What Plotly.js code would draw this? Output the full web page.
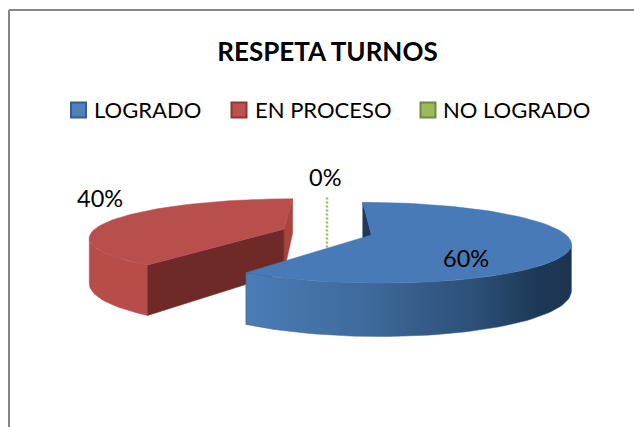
<!DOCTYPE html>
<html>
<head>
<meta charset="utf-8">
<script src="https://cdn.plot.ly/plotly-3.0.1.min.js"></script>
<style>html,body{margin:0;padding:0;background:#fff}#c{width:634px;height:427px}</style>
</head>
<body>
<div id="c"></div>
<script>
const categories = ['LOGRADO', 'EN PROCESO', 'NO LOGRADO'];
const values = [60, 40, 0];
const chartTitle = 'RESPETA TURNOS';
const legendColors = ['#4f81bd', '#c0504d', '#9bbb59'];
const legendEdges = ['#385d8a', '#8c3836', '#71893f'];

// Pie projection settings (pixel-valued x/y axes)
const FONT = 'Lato, Carlito, Calibri, sans-serif';
const CX = 327, CY = 232, R = 192, TILT = 0.2046, PERSP = 0.00103, DEPTH = 44;
const explodes = [46, 46, 25];
const labelPos = [[466, 258], [99.5, 198], [325, 177]];
const legendSwatchX = [78.5, 239, 428];
const legendTextX = [94, 255, 443];
const legendY = 110;

const rad = d => d * Math.PI / 180;
function project(X, Z, drop) {
  const s = 1 - PERSP * Z;
  return [CX + X * s, CY - Z * TILT * s + (drop ? DEPTH * s : 0)];
}
function slice(i) {
  let start = 0;
  for (let j = 0; j < i; j++) start += values[j];
  const a0 = start * 3.6, a1 = (start + values[i]) * 3.6, mid = (a0 + a1) / 2;
  const ox = explodes[i] * Math.sin(rad(mid)), oz = explodes[i] * Math.cos(rad(mid));
  return {
    a0, a1,
    rim: (a, drop) => project(ox + R * Math.sin(rad(a)), oz + R * Math.cos(rad(a)), drop),
    apex: drop => project(ox, oz, drop)
  };
}
function arc(sl, a0, a1, drop) {
  const n = Math.max(2, Math.round(Math.abs(a1 - a0) / 2));
  const out = [];
  for (let k = 0; k <= n; k++) out.push(sl.rim(a0 + (a1 - a0) * k / n, drop));
  return out;
}
// angle of the rim's horizontal extreme: where the side wall's silhouette turns
function extremeAngle(sl, sign) {
  let best = sl.a0, bestX = -Infinity;
  for (let a = sl.a0; a <= sl.a1; a += 0.5) {
    const x = sign * sl.rim(a, false)[0];
    if (x > bestX) { bestX = x; best = a; }
  }
  return best;
}
function poly(pts, color, extra) {
  return Object.assign({
    x: pts.map(p => p[0]).concat(pts[0][0]),
    y: pts.map(p => p[1]).concat(pts[0][1]),
    mode: 'lines', fill: 'toself', fillcolor: color,
    line: {width: 0.5, color: color}, hoverinfo: 'skip', showlegend: false
  }, extra || {});
}
const topFace = sl => [sl.apex(false)].concat(arc(sl, sl.a0, sl.a1, false));
const wall = (sl, a) => [sl.rim(a, false), sl.apex(false), sl.apex(true), sl.rim(a, true)];
const side = (sl, a0, a1) => arc(sl, a0, a1, false).concat(arc(sl, a1, a0, true));

const blue = slice(0), red = slice(1), green = slice(2);
const traces = [];

// zero-value slice: only its edge is visible
const g0 = green.rim(360, false), g1 = green.apex(true);
traces.push({x: [g0[0], g1[0]], y: [g0[1], g1[1]], mode: 'lines',
  line: {color: '#9bbb59', width: 2.5, dash: '2px,2px'}, hoverinfo: 'skip', showlegend: false});

// EN PROCESO
traces.push(poly(wall(red, red.a1), '#a8433f'));
traces.push(poly(side(red, red.a0, extremeAngle(red, -1)), '#b84c49'));
traces.push(poly(wall(red, red.a0), '#6f2a27'));
traces.push(poly(topFace(red), '#b94f4c'));

// LOGRADO
traces.push(poly(wall(blue, blue.a0), '#1f3a5c'));
const bs = poly(side(blue, extremeAngle(blue, 1), blue.a1), '#3a6390');
bs.fillgradient = {type: 'horizontal', colorscale: [[0, '#4a7cb6'], [0.35, '#3f6b9e'], [0.7, '#2c5077'], [0.9, '#1d3856'], [1, '#1c3450']]};
traces.push(bs);
traces.push(poly(topFace(blue), '#477ab6'));

// legend swatches
categories.forEach((c, i) => traces.push({
  x: [legendSwatchX[i]], y: [legendY], mode: 'markers', name: c, type: 'scatter', showlegend: false,
  marker: {symbol: 'square', size: 15, color: legendColors[i], line: {color: legendEdges[i], width: 2}},
  hoverinfo: 'skip'
}));

const dataLabels = values.map((v, i) => ({
  x: labelPos[i][0], y: labelPos[i][1], xref: 'x', yref: 'y', text: v + '%', showarrow: false,
  xanchor: 'center', yanchor: 'middle', font: {family: FONT, size: 23.5, color: '#000'}
}));
const legendLabels = categories.map((c, i) => ({
  x: legendTextX[i], y: legendY - 1, xref: 'x', yref: 'y', text: c, showarrow: false,
  xanchor: 'left', yanchor: 'middle', xshift: -2, font: {family: FONT, size: 22, color: '#000'}
}));

const layout = {
  width: 634, height: 427,
  margin: {l: 0, r: 0, t: 0, b: 0},
  paper_bgcolor: '#fff', plot_bgcolor: '#fff',
  font: {family: FONT, color: '#000'},
  title: {text: '<b>' + chartTitle + '</b>', x: 327.5 / 634, xanchor: 'center', xref: 'paper',
    y: 1 - 52 / 427, yanchor: 'middle', font: {family: FONT, size: 26, color: '#000'}},
  xaxis: {range: [0, 634], visible: false, fixedrange: true},
  yaxis: {range: [427, 0], visible: false, fixedrange: true},
  showlegend: false,
  shapes: [
    {type: 'line', xref: 'x', yref: 'y', x0: 9, x1: 9, y0: 10, y1: 427, line: {color: '#868686', width: 2}},
    {type: 'line', xref: 'x', yref: 'y', x0: 9, x1: 634, y0: 10, y1: 10, line: {color: '#868686', width: 2}}
  ],
  annotations: dataLabels.concat(legendLabels)
};
Plotly.newPlot('c', traces, layout, {displayModeBar: false, staticPlot: true});
</script>
</body>
</html>
